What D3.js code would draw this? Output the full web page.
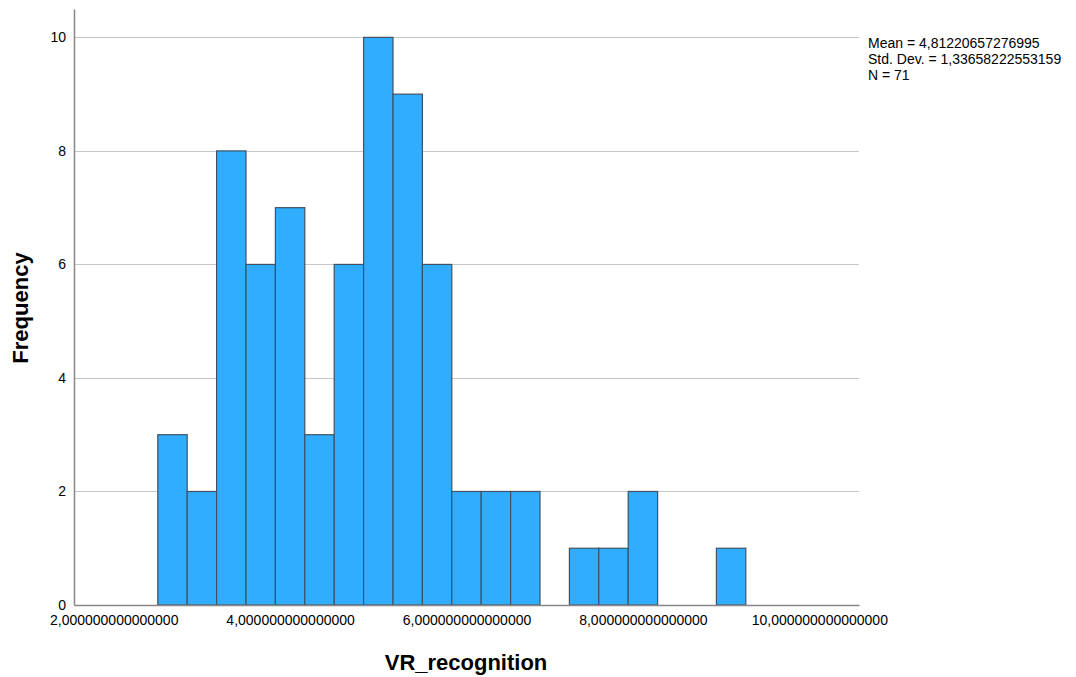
<!DOCTYPE html>
<meta charset="utf-8">
<style>
    body {
        margin: 0;
        background-color: #fff;
        font-family: "Liberation Sans", Arial, Helvetica, sans-serif;
    }

    #histo {
        width: 1076px;
        height: 677px;
    }

    .grid line {
        stroke: #c8c8c8;
    }

    .bar {
        fill: #31adff;
        stroke: #3f5263;
        stroke-width: 1.2;
    }

    text {
        fill: #000;
    }
</style>

<body>
    <svg id="histo"></svg>
</body>

<script src="https://d3js.org/d3.v7.min.js"></script>
<script>
    // Data (bin lower edges, counts)
    var binEdges = [2.5, 2.8333, 3.1667, 3.5, 3.8333, 4.1667, 4.5, 4.8333, 5.1667, 5.5,
        5.8333, 6.1667, 6.5, 6.8333, 7.1667, 7.5, 7.8333, 8.1667, 8.5, 8.8333, 9.1667];
    var counts = [3, 2, 8, 6, 7, 3, 6, 10, 9, 6, 2, 2, 2, 0, 1, 1, 2, 0, 0, 1];
    var xTicks = [2, 4, 6, 8, 10];
    var yTicks = [0, 2, 4, 6, 8, 10];
    var statLines = ["Mean = 4,81220657276995", "Std. Dev. = 1,33658222553159", "N = 71"];

    var svg = d3.select("#histo");

    var x = d3.scaleLinear().domain([1.55, 10.45]).range([74, 859]),
        y = d3.scaleLinear().domain([0, 10.5]).range([605, 9]);

    // gridlines (not at zero)
    svg.append("g").attr("class", "grid")
        .selectAll("line").data(yTicks.filter(function (d) { return d > 0; }))
        .enter().append("line")
        .attr("x1", x.range()[0]).attr("x2", x.range()[1])
        .attr("y1", function (d) { return Math.round(y(d)) + 0.5; })
        .attr("y2", function (d) { return Math.round(y(d)) + 0.5; });

    // bars
    var bins = counts.map(function (c, i) {
        return { x0: binEdges[i], x1: binEdges[i + 1], n: c };
    });
    svg.append("g").selectAll("rect").data(bins.filter(function (d) { return d.n > 0; }))
        .enter().append("rect")
        .attr("class", "bar")
        .attr("x", function (d) { return x(d.x0); })
        .attr("width", function (d) { return x(d.x1) - x(d.x0); })
        .attr("y", function (d) { return y(d.n); })
        .attr("height", function (d) { return y(0) - y(d.n); });

    // axes
    var xAxis = d3.axisBottom(x).tickValues(xTicks).tickSize(0).tickPadding(10)
        .tickFormat(function (d) { return d3.format(".15f")(d).replace(".", ","); });
    var gx = svg.append("g").attr("transform", "translate(0," + y(0) + ")").call(xAxis);
    gx.select(".domain").attr("stroke", "#888").attr("stroke-width", 1.5);
    gx.selectAll("text").attr("font-size", 14).attr("font-family", "Liberation Sans, Arial, sans-serif");

    var yAxis = d3.axisLeft(y).tickValues(yTicks).tickSize(0).tickPadding(8);
    var gy = svg.append("g").attr("transform", "translate(" + x.range()[0] + ",0)").call(yAxis);
    gy.select(".domain").attr("stroke", "#888").attr("stroke-width", 1.5);
    gy.selectAll("text").attr("font-size", 14).attr("font-family", "Liberation Sans, Arial, sans-serif");

    // axis titles
    svg.append("text")
        .attr("transform", "translate(28,308)rotate(-90)")
        .attr("text-anchor", "middle")
        .attr("font-size", 22).attr("font-weight", "bold")
        .text("Frequency");

    svg.append("text")
        .attr("x", 466).attr("y", 670)
        .attr("text-anchor", "middle")
        .attr("font-size", 22).attr("font-weight", "bold")
        .text("VR_recognition");

    // stats box
    svg.append("g").selectAll("text").data(statLines)
        .enter().append("text")
        .attr("x", 868)
        .attr("y", function (d, i) { return 48 + i * 16; })
        .attr("font-size", 14)
        .text(function (d) { return d; });
</script>
